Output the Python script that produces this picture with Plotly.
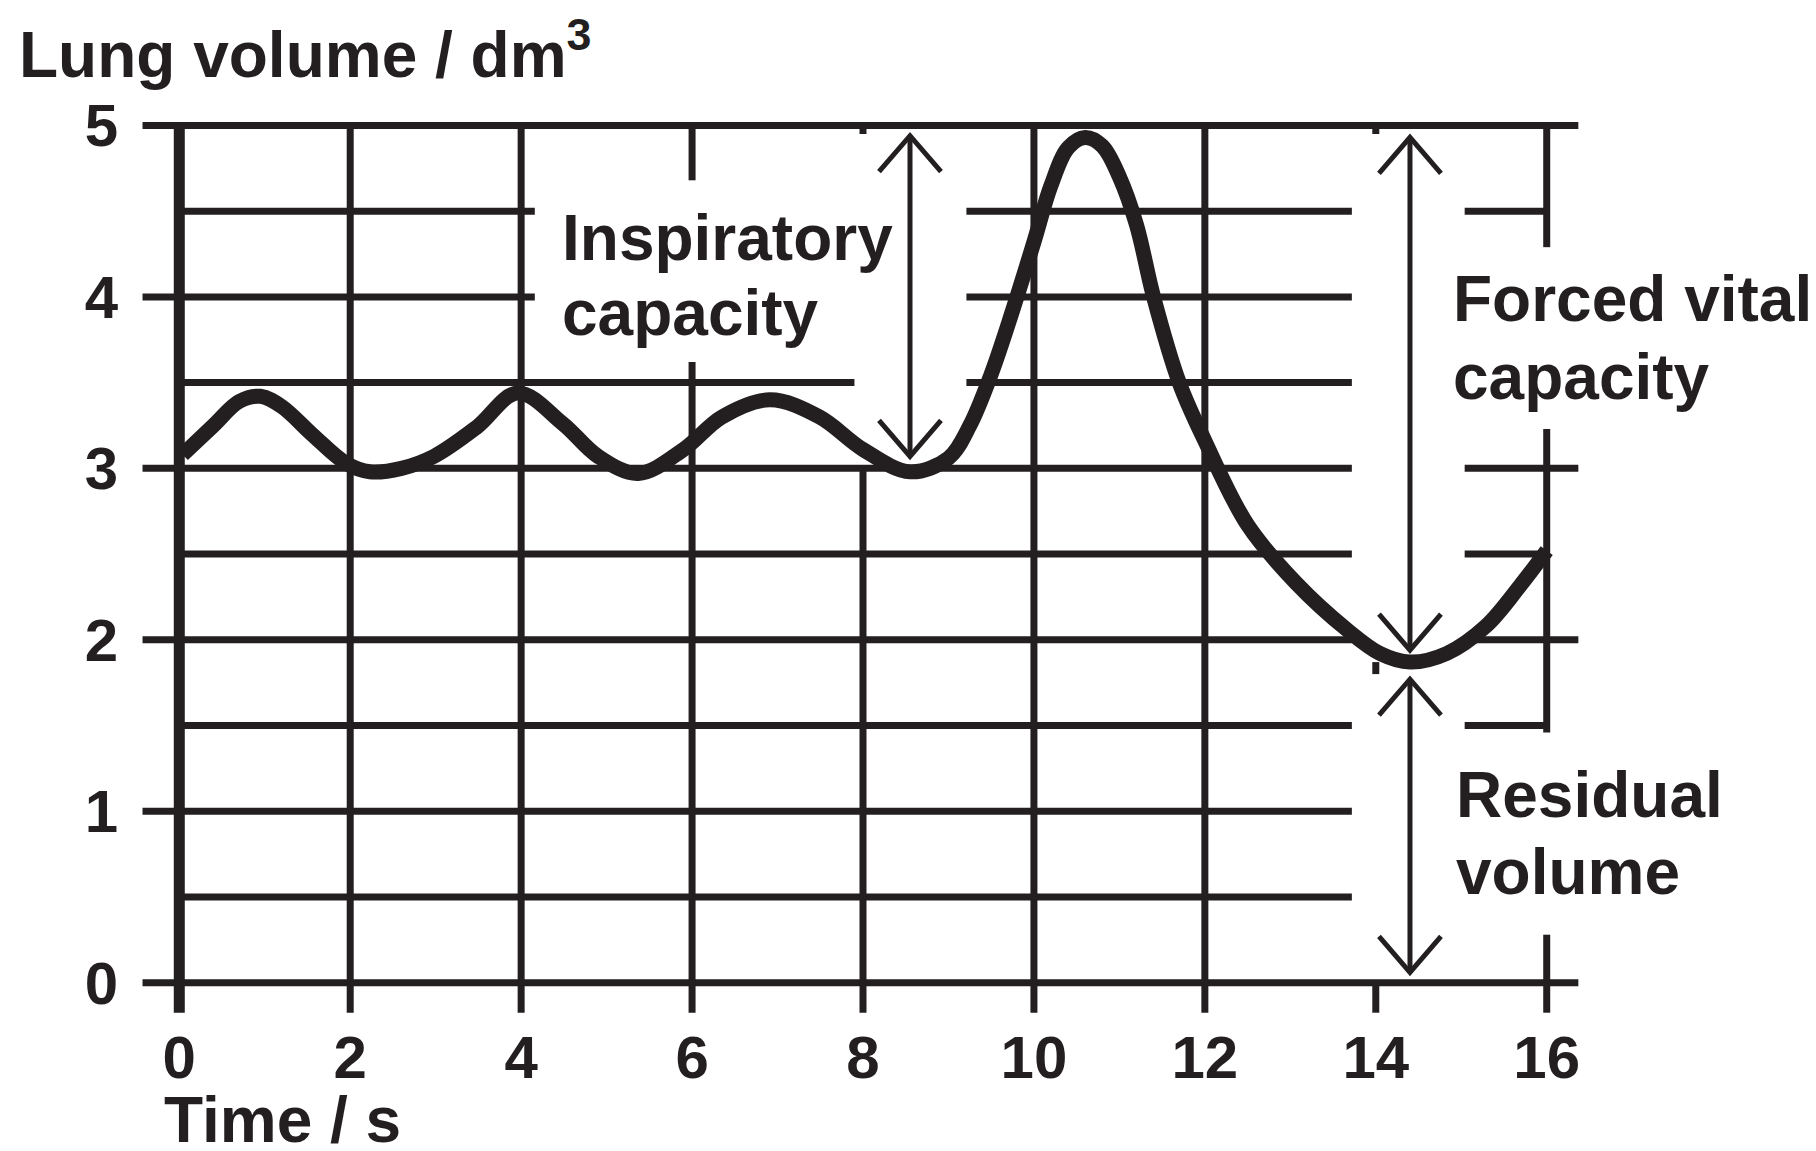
import plotly.graph_objects as go

INK = "#231F20"
FONT = "Liberation Sans, Arial, Helvetica, sans-serif"

# ---- data -------------------------------------------------------------
TIME = [0.04, 0.40, 0.70, 0.95, 1.20, 1.55, 1.95, 2.23, 2.6, 2.98, 3.48,
        3.96, 4.49, 4.9, 5.37, 5.9, 6.35, 6.91, 7.49, 8.0, 8.55, 9.0, 9.25,
        9.5, 9.75, 10.0, 10.2, 10.4, 10.6, 10.8, 11.0, 11.2, 11.4, 11.7,
        12.0, 12.5, 13.07, 13.66, 14.05, 14.4, 14.83, 15.29, 15.68, 16.0]
VOLUME = [3.08, 3.25, 3.39, 3.42, 3.36, 3.20, 3.03, 2.98, 3.00, 3.07, 3.24,
          3.44, 3.26, 3.07, 2.97, 3.11, 3.30, 3.40, 3.30, 3.11, 2.98, 3.06,
          3.25, 3.55, 3.92, 4.32, 4.65, 4.87, 4.93, 4.88, 4.70, 4.42, 4.00,
          3.50, 3.16, 2.67, 2.33, 2.06, 1.92, 1.87, 1.92, 2.08, 2.31, 2.52]

X_TICKS = [0, 2, 4, 6, 8, 10, 12, 14, 16]
Y_TICKS = [0, 1, 2, 3, 4, 5]

# grid segments (value, list of (start, end)) in data units
H_GRID = [
    (5.0, [(-0.43, 16.37)]),
    (4.5, [(0, 4.16), (9.21, 13.72), (15.04, 16)]),
    (4.0, [(-0.43, 4.16), (9.21, 13.72)]),
    (3.5, [(0, 7.90), (9.21, 13.72)]),
    (3.0, [(-0.43, 13.72), (15.04, 16.37)]),
    (2.5, [(0, 13.72), (15.04, 16)]),
    (2.0, [(-0.43, 13.72), (15.04, 16.37)]),
    (1.5, [(0, 13.72), (15.04, 16)]),
    (1.0, [(-0.43, 13.72)]),
    (0.5, [(0, 13.72)]),
    (0.0, [(-0.43, 16.37)]),
]
V_GRID = [
    (2, [(-0.175, 5)]),
    (4, [(-0.175, 5)]),
    (6, [(-0.175, 3.62), (4.68, 5)]),
    (8, [(-0.175, 3.01), (4.95, 5)]),
    (10, [(-0.175, 5)]),
    (12, [(-0.175, 5)]),
    (14, [(-0.175, 0), (1.80, 1.87), (4.95, 5)]),
    (16, [(-0.175, 0.28), (1.46, 3.23), (4.29, 5)]),
]
Y_AXIS_LINE = (0, [(-0.175, 5)])

# double-headed arrows: x, lower tip, upper tip
ARROWS = [(8.55, 3.07, 4.94), (14.40, 1.94, 4.93), (14.40, 0.06, 1.77)]

# label lines: text, x (left), y (middle)
LABELS = [
    ("Inspiratory", 4.46, 4.345),
    ("capacity", 4.46, 3.906),
    ("Forced vital", 14.88, 3.987),
    ("capacity", 14.88, 3.535),
    ("Residual", 14.91, 1.092),
    ("volume", 14.91, 0.646),
]

# ---- geometry ---------------------------------------------------------
W, H = 1816, 1151
OFF = 8  # page body margin
X0PX, X16PX, Y5PX, Y0PX = 179.5 - OFF, 1547.0 - OFF, 125.0 - OFF, 983.0 - OFF
XR = [-0.6, 16.6]
YR = [-0.2, 5.3]
ppx = (X16PX - X0PX) / 16
ppy = (Y0PX - Y5PX) / 5
ml = X0PX + XR[0] * ppx
mr = W - (X0PX + XR[1] * ppx)
mt = Y5PX - (YR[1] - 5) * ppy
mb = H - (Y0PX - YR[0] * ppy)
PW = W - ml - mr
PH = H - mt - mb

HEAD_DX = 31 / ppx
HEAD_DY = 36 / ppy

fig = go.Figure()

def seg_trace(xs, ys, width):
    fig.add_trace(go.Scatter(x=xs, y=ys, mode="lines",
                             line=dict(color=INK, width=width),
                             hoverinfo="skip", showlegend=False))

# horizontal grid
hx, hy = [], []
for yv, segs in H_GRID:
    for a, b in segs:
        hx += [a, b, None]
        hy += [yv, yv, None]
seg_trace(hx, hy, 7)

# vertical grid
vx, vy = [], []
for xv, segs in V_GRID:
    for a, b in segs:
        vx += [xv, xv, None]
        vy += [a, b, None]
seg_trace(vx, vy, 7)

# thick y axis line
ax_x, segs = Y_AXIS_LINE
seg_trace([ax_x, ax_x], [segs[0][0], segs[0][1]], 11)

# arrows
arx, ary = [], []
for xa, lo, hi in ARROWS:
    arx += [xa, xa, None]
    ary += [lo, hi, None]
    arx += [xa - HEAD_DX, xa, xa + HEAD_DX, None]
    ary += [hi - HEAD_DY, hi, hi - HEAD_DY, None]
    arx += [xa - HEAD_DX, xa, xa + HEAD_DX, None]
    ary += [lo + HEAD_DY, lo, lo + HEAD_DY, None]
seg_trace(arx, ary, 5)

# lung volume curve
fig.add_trace(go.Scatter(x=TIME, y=VOLUME, mode="lines",
                         line=dict(color=INK, width=15, shape="spline",
                                   smoothing=1.0),
                         hoverinfo="skip", showlegend=False))

annotations = []
for txt, xa, ya in LABELS:
    annotations.append(dict(text="<b>" + txt + "</b>", x=xa, y=ya,
                            xref="x", yref="y", xanchor="left",
                            yanchor="middle", align="left", showarrow=False,
                            font=dict(family=FONT, size=64, color=INK)))

annotations.append(dict(text="<b>Lung volume / dm<sup>3</sup></b>",
                        x=(9 - ml) / PW, y=1.0 + (mt - 42) / PH,
                        xref="paper", yref="paper", xanchor="left",
                        yanchor="middle", showarrow=False,
                        font=dict(family=FONT, size=64, color=INK)))
annotations.append(dict(text="<b>Time / s</b>",
                        x=(154 - ml) / PW, y=-(1112 - (H - mb)) / PH,
                        xref="paper", yref="paper", xanchor="left",
                        yanchor="middle", showarrow=False,
                        font=dict(family=FONT, size=64, color=INK)))

fig.update_layout(
    width=W, height=H,
    margin=dict(l=ml, r=mr, t=mt, b=mb, pad=0),
    plot_bgcolor="white", paper_bgcolor="white",
    annotations=annotations,
    showlegend=False,
)
fig.update_xaxes(range=XR, showgrid=False, zeroline=False, showline=False,
                 tickvals=X_TICKS, ticktext=[str(v) for v in X_TICKS],
                 ticks="", ticklabelstandoff=0,
                 tickfont=dict(family=FONT, size=60, color=INK, weight="bold"))
fig.update_yaxes(range=YR, showgrid=False, zeroline=False, showline=False,
                 tickvals=Y_TICKS, ticktext=[str(v) for v in Y_TICKS],
                 ticks="", ticklabelstandoff=9,
                 tickfont=dict(family=FONT, size=60, color=INK, weight="bold"))

fig.write_html("out.html")
